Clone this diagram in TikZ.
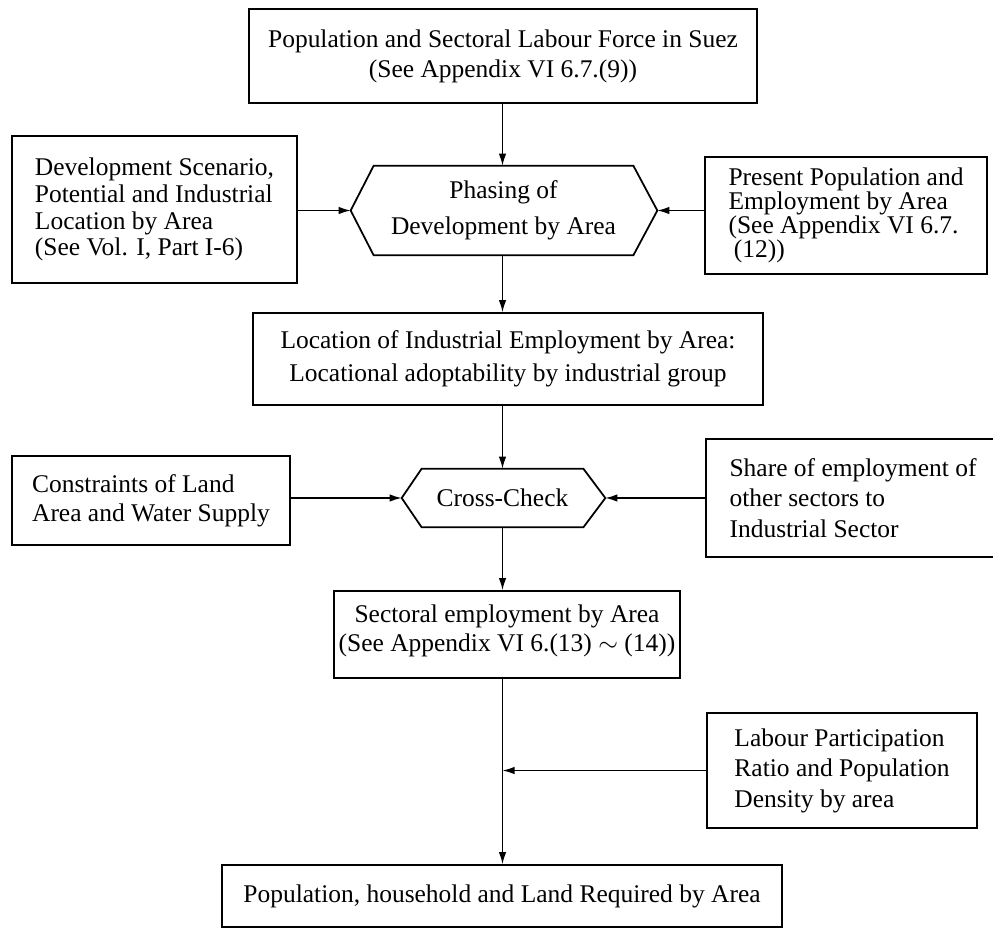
\documentclass[tikz,border=0pt]{standalone}
\usepackage{fontspec}
\setmainfont{Liberation Serif}
\usetikzlibrary{arrows, arrows.meta}
\usetikzlibrary{positioning}

\tikzset{
  box/.style={draw, line width=1pt, inner sep=0pt, align=left},
  cbox/.style={draw, line width=1pt, inner sep=0pt, align=center},
  hexa/.style={inner sep=0pt, align=center},
  hexline/.style={line width=1pt},
  lines/.style={font=\fontsize{14.5}{#1}\selectfont},
  arr/.style={-{Latex[length=2.4mm, width=1.5mm]}, line width=0.8pt},
}

\begin{document}
\begin{tikzpicture}[x=0.02cm, y=-0.02cm] % labour force flow chart
\useasboundingbox (0,0) rectangle (993,930);

%main column
\node[cbox, lines=17pt, minimum width=10.16cm, minimum height=1.88cm] (suez) at (503,56)
  {Population and Sectoral Labour Force in Suez\\(See Appendix VI 6.7.(9))};
\node[hexa, lines=20.5pt, minimum width=5.18cm, minimum height=1.78cm] (phase) at (503.5,210.5)
  {Phasing of\\Development by Area};
\node[cbox, lines=18.7pt, minimum width=10.2cm, minimum height=1.84cm] (loc) at (508,359)
  {Location of Industrial Employment by Area:\\Locational adoptability by industrial group};
\node[hexa, lines=17pt, minimum width=3.22cm, minimum height=1.16cm] (check) at (502.5,498)
  {Cross-Check};
\node[cbox, minimum width=6.92cm, minimum height=1.74cm,
  label={[lines=16.5pt, align=center, yshift=0.8mm]center:{Sectoral employment by Area\\(See Appendix VI 6.(13) $\sim$ (14))}}]
  (sect) at (507,634.5) {};
\node[cbox, lines=17pt, minimum width=11.2cm, minimum height=1.24cm] (popreq) at (502,896)
  {Population, household and Land Required by Area};

%side boxes
\node[box, lines=15.3pt, minimum width=5.7cm, minimum height=2.94cm] (scen) at (154.5,209.5)
  {Development Scenario,\\Potential and Industrial\\Location by Area\\(See Vol. I, Part I-6)};
\node[box, lines=13.6pt, minimum width=5.64cm, minimum height=2.34cm] (pres) at (846,215.5)
  {Present Population and\\Employment by Area\\(See Appendix VI 6.7.\\\hspace{3pt}(12))};
\node[box, lines=16.4pt, minimum width=5.56cm, minimum height=1.78cm] (constr) at (151,500.5)
  {Constraints of Land\\Area and Water Supply};
\node[box, lines=17.3pt, minimum width=5.88cm, minimum height=2.36cm] (share) at (853,498)
  {Share of employment of\\other sectors to\\Industrial Sector};
\node[box, lines=17.3pt, minimum width=5.4cm, minimum height=2.3cm] (ratio) at (842,770.5)
  {Labour Participation\\Ratio and Population\\Density by area};

%hexagon outlines
\coordinate (phase w) at ([xshift=-4.6mm]phase.west);
\coordinate (phase e) at ([xshift=4.8mm]phase.east);
\draw[hexline] (phase.north west) -- (phase.north east) -- (phase e)
  -- (phase.south east) -- (phase.south west) -- (phase w) -- cycle;
\coordinate (check w) at ([xshift=-4mm]check.west);
\coordinate (check e) at ([xshift=4.4mm]check.east);
\draw[hexline] (check.north west) -- (check.north east) -- (check e)
  -- (check.south east) -- (check.south west) -- (check w) -- cycle;

%arrows
\draw[arr] (suez.south -| check.north) -- (check.north |- phase.north);
\draw[arr] (scen.east |- phase w) -- (phase w);
\draw[arr] (pres.west |- phase e) -- (phase e);
\draw[arr] (phase.south -| check.north) -- (check.north |- loc.north);
\draw[arr] (loc.south -| check.north) -- (check.north);
\draw[arr] (constr.east |- check w) -- (check w);
\draw[arr] (share.west |- check e) -- (check e);
\draw[arr] (check.south) -- (check.south |- sect.north);

\coordinate (join) at (check.south |- ratio.west);
\draw[arr] (ratio.west) -- (join);
\draw[arr] (sect.south -| join) -- (join |- popreq.north);

\end{tikzpicture}
\end{document}
